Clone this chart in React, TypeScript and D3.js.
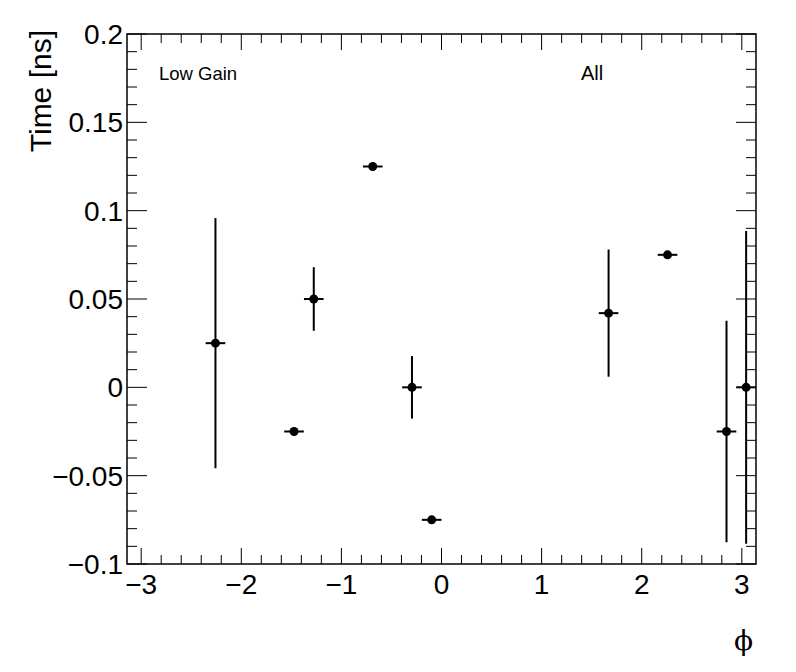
import React from "react";
import * as d3 from "d3";

const phiValues = [-2.258, -1.473, -1.276, -0.687, -0.295, -0.098, 1.669, 2.258, 2.847, 3.043];
const phiErrors = [0.098, 0.098, 0.098, 0.098, 0.098, 0.098, 0.098, 0.098, 0.098, 0.098];
const timeValues = [0.025, -0.025, 0.05, 0.125, 0.0, -0.075, 0.042, 0.075, -0.025, 0.0];
const timeErrors = [0.0708, 0.0, 0.018, 0.0, 0.0177, 0.0, 0.036, 0.0, 0.0627, 0.0885];
const xTickLabels = [-3, -2, -1, 0, 1, 2, 3];
const yTickLabels = [-0.1, -0.05, 0, 0.05, 0.1, 0.15, 0.2];

const W = 796, H = 672;
const L = 127, R = 756, T = 34, B = 564;
const FONT = "'Liberation Sans', Arial, Helvetica, sans-serif";

export default function App() {
  const x = d3.scaleLinear().domain([-Math.PI, Math.PI]).range([L, R]);
  const y = d3.scaleLinear().domain([-0.1, 0.2]).range([B, T]);
  const fmt = (v: number) => (v < 0 ? "\u2212" : "") + String(Math.abs(v));

  const xMinor = d3.range(-3.2, 3.21, 0.2).map((v) => +v.toFixed(2)).filter((v) => v >= -Math.PI && v <= Math.PI);
  const yMinor = d3.range(-0.1, 0.2001, 0.01).map((v) => +v.toFixed(3));

  const pts = phiValues.map((p, i) => ({ p, ex: phiErrors[i], t: timeValues[i], et: timeErrors[i] }));

  return (
    <div style={{ position: "fixed", left: 0, top: 0 }}>
      <svg width={W} height={H} style={{ display: "block", background: "#fff" }}>
        <rect x={0} y={0} width={W} height={H} fill="#fff" />
        {xMinor.map((v, i) => {
          const major = xTickLabels.some((m) => Math.abs(m - v) < 1e-6);
          const len = major ? 16 : 9;
          return (
            <g key={"xm" + i} stroke="#000" strokeWidth={1}>
              <line x1={x(v)} x2={x(v)} y1={B} y2={B - len} />
              <line x1={x(v)} x2={x(v)} y1={T} y2={T + len} />
            </g>
          );
        })}
        {yMinor.map((v, i) => {
          const major = yTickLabels.some((m) => Math.abs(m - v) < 1e-6);
          const len = major ? 20 : 10;
          return (
            <g key={"ym" + i} stroke="#000" strokeWidth={1}>
              <line x1={L} x2={L + len} y1={y(v)} y2={y(v)} />
              <line x1={R} x2={R - len} y1={y(v)} y2={y(v)} />
            </g>
          );
        })}
        <rect x={L} y={T} width={R - L} height={B - T} fill="none" stroke="#000" strokeWidth={1.5} />
        {xTickLabels.map((v) => (
          <text key={"xl" + v} x={x(v)} y={594} textAnchor="middle" fontFamily={FONT} fontSize={28} fill="#000">
            {fmt(v)}
          </text>
        ))}
        {yTickLabels.map((v) => (
          <text key={"yl" + v} x={123} y={y(v) + 10} textAnchor="end" fontFamily={FONT} fontSize={28} fill="#000">
            {fmt(v)}
          </text>
        ))}
        <text transform={`translate(51,${T - 4}) rotate(-90)`} textAnchor="end" fontFamily={FONT} fontSize={30} fill="#000">
          Time [ns]
        </text>
        <text x={753} y={650} textAnchor="end" fontFamily="'DejaVu Serif', serif" fontSize={28} fill="#000">
          {"\u03D5"}
        </text>
        <text x={159} y={80} fontFamily={FONT} fontSize={18.5} fill="#000">Low Gain</text>
        <text x={581} y={80} fontFamily={FONT} fontSize={20} fill="#000">All</text>
        {pts.map((d, i) => (
          <g key={"p" + i} stroke="#000" strokeWidth={2}>
            <line x1={x(d.p - d.ex)} x2={x(d.p + d.ex)} y1={y(d.t)} y2={y(d.t)} />
            {d.et > 0 && <line x1={x(d.p)} x2={x(d.p)} y1={y(d.t + d.et)} y2={y(d.t - d.et)} />}
            <circle cx={x(d.p)} cy={y(d.t)} r={4.5} fill="#000" stroke="none" />
          </g>
        ))}
      </svg>
    </div>
  );
}
